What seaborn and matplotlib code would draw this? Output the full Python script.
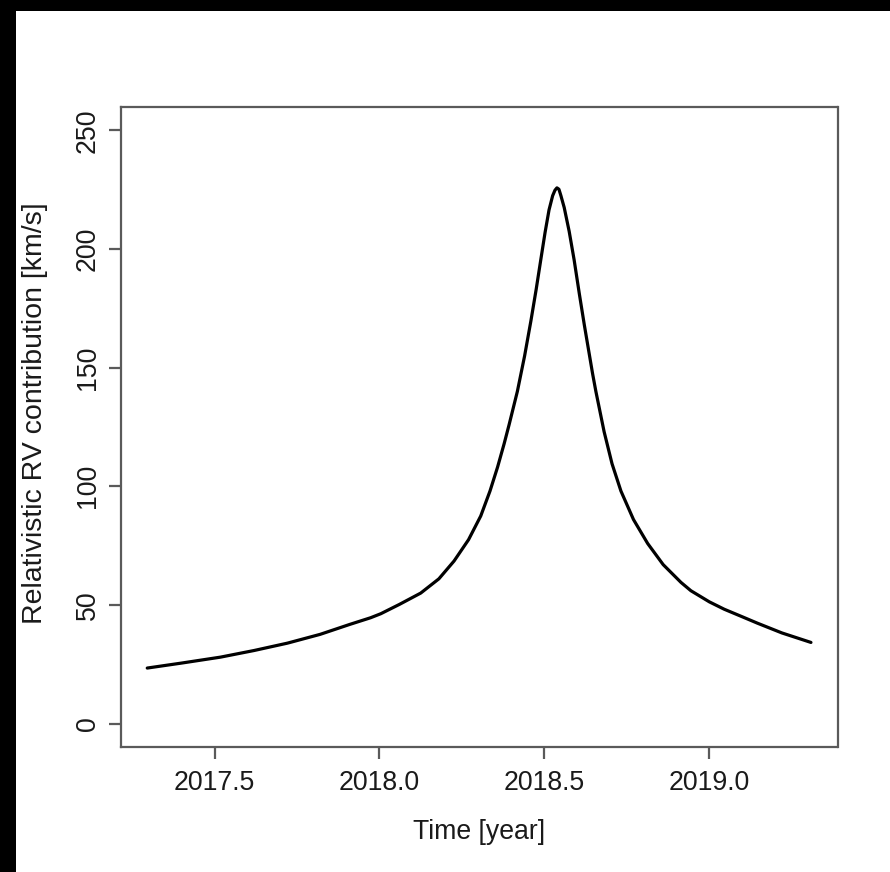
import matplotlib
matplotlib.use("Agg")
import matplotlib.pyplot as plt
from matplotlib.patches import Rectangle
import seaborn as sns
import pandas as pd

# Data
time_year = [2017.296, 2017.40, 2017.518, 2017.62, 2017.721, 2017.82, 2017.91,
             2017.973, 2018.004, 2018.06, 2018.125, 2018.18, 2018.226, 2018.27,
             2018.307, 2018.335, 2018.358, 2018.378, 2018.393, 2018.418, 2018.44,
             2018.459, 2018.475, 2018.489, 2018.502, 2018.514, 2018.525, 2018.532,
             2018.538, 2018.544, 2018.550, 2018.560, 2018.575, 2018.590, 2018.606,
             2018.621, 2018.646, 2018.656, 2018.681, 2018.705, 2018.732, 2018.77,
             2018.813, 2018.86, 2018.914, 2018.944, 2019.00, 2019.045, 2019.10,
             2019.146, 2019.22, 2019.308]
rv_kms = [23.4, 25.5, 28.0, 30.8, 33.9, 37.6, 41.8,
          44.6, 46.3, 50.2, 55.0, 61.0, 68.5, 77.5,
          87.5, 98.0, 108.1, 118.0, 126.0, 140.0, 155.0,
          169.7, 183.0, 195.5, 207.0, 216.5, 222.5, 224.8,
          225.8, 225.2, 222.5, 217.5, 207.5, 195.5, 181.0,
          168.0, 147.5, 140.0, 123.0, 109.5, 98.0, 86.0,
          75.9, 67.0, 59.5, 56.0, 51.3, 48.2, 45.0,
          42.3, 38.2, 34.2]
x_ticks = [2017.5, 2018.0, 2018.5, 2019.0]
x_tick_labels = ["2017.5", "2018.0", "2018.5", "2019.0"]
y_ticks = [0, 50, 100, 150, 200, 250]
y_tick_labels = ["0", "50", "100", "150", "200", "250"]

df = pd.DataFrame({"time": time_year, "rv": rv_kms})

sns.set_style("ticks")
plt.rcParams["font.family"] = ["Liberation Sans", "DejaVu Sans"]

W, H = 890, 872
fig = plt.figure(figsize=(W / 100, H / 100), dpi=100)
fig.patch.set_facecolor("white")
ax = fig.add_axes([120.7 / W, 1 - 747.3 / H, (837.5 - 120.7) / W, (747.3 - 106.7) / H])

sns.lineplot(data=df, x="time", y="rv", ax=ax, color="black", linewidth=2.3,
             sort=False, estimator=None)

# R-style 4% extension
xmin, xmax = min(time_year), max(time_year)
dx = (xmax - xmin) * 0.04
ax.set_xlim(xmin - dx, xmax + dx)
ax.set_ylim(-10, 260)

ax.set_xticks(x_ticks)
ax.set_xticklabels(x_tick_labels)
ax.set_yticks(y_ticks)
ax.set_yticklabels(y_tick_labels)

txt_color = "#1a1a1a"
edge_color = "#5a5a5a"
fs = 19.2

for s in ax.spines.values():
    s.set_visible(True)
    s.set_color(edge_color)
    s.set_linewidth(1.6)

ax.tick_params(axis="both", direction="out", length=8.6, width=1.6,
               color=edge_color, labelcolor=txt_color, labelsize=fs)
ax.tick_params(axis="x", pad=17.0)
ax.tick_params(axis="y", pad=14.9)
for lab in ax.get_xticklabels():
    lab.set_va("center")
for lab in ax.get_yticklabels():
    lab.set_rotation(90)
    lab.set_ha("center")
    lab.set_va("center")

ax.set_xlabel("Time [year]", fontsize=fs, color=txt_color)
ax.set_ylabel("Relativistic RV contribution [km/s]", fontsize=20.5, color=txt_color)
ax.xaxis.label.set_va("center")
ax.yaxis.label.set_va("center")
ax.xaxis.set_label_coords(0.5, (747.3 - 832) / (747.3 - 106.7))
ax.yaxis.set_label_coords((35 - 120.7) / (837.5 - 120.7), (747.3 - 413) / (747.3 - 106.7))
ax.grid(False)

# black bands at the left and top edges of the reference
fig.patches.append(Rectangle((0, 0), 16 / W, 1, transform=fig.transFigure,
                             facecolor="black", edgecolor="none", zorder=10))
fig.patches.append(Rectangle((0, 1 - 11 / H), 1, 11 / H, transform=fig.transFigure,
                             facecolor="black", edgecolor="none", zorder=10))

fig.savefig("out.png", dpi=100, facecolor="white")
